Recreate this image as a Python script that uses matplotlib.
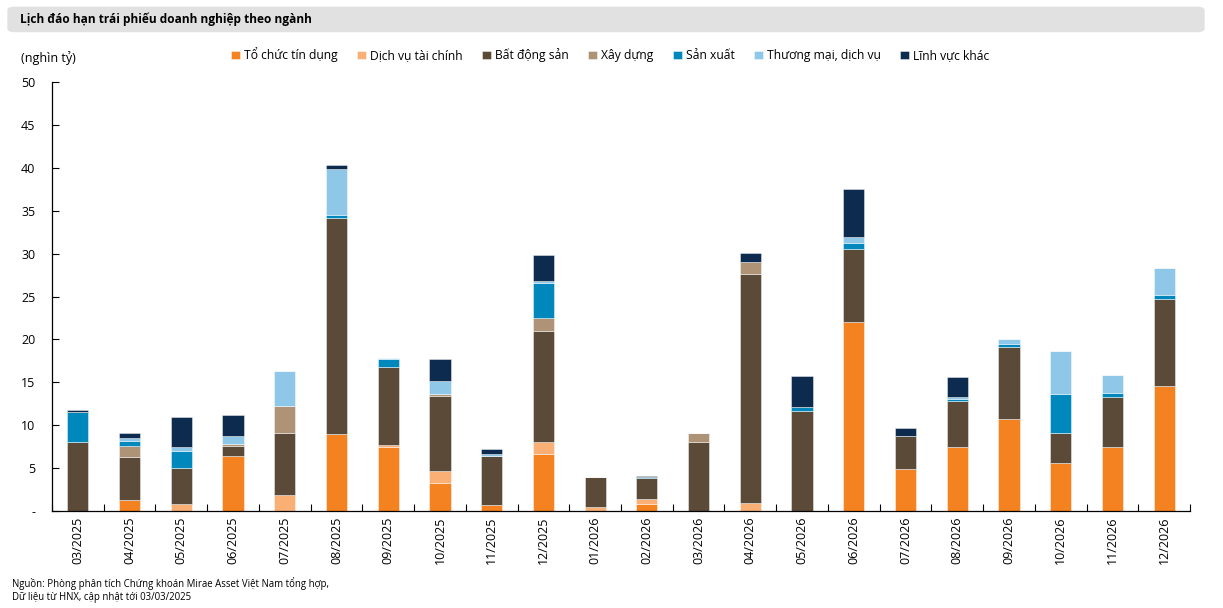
import matplotlib.pyplot as plt
import numpy as np
from matplotlib.patches import FancyBboxPatch

plt.rcParams['font.family'] = ['Open Sans', 'DejaVu Sans']

# Thang đáo hạn
thang = ['03/2025', '04/2025', '05/2025', '06/2025', '07/2025', '08/2025', '09/2025',
         '10/2025', '11/2025', '12/2025', '01/2026', '02/2026', '03/2026', '04/2026',
         '05/2026', '06/2026', '07/2026', '08/2026', '09/2026', '10/2026', '11/2026',
         '12/2026']

# Giá trị theo ngành (nghìn tỷ)
to_chuc_tin_dung = [0, 1.28, 0, 6.41, 0, 8.97, 7.5, 3.3, 0.7, 6.68, 0, 0.82, 0, 0,
                    0, 22.07, 4.94, 7.5, 10.76, 5.59, 7.5, 14.61]
dich_vu_tai_chinh = [0, 0, 0.78, 0, 1.82, 0, 0.15, 1.36, 0, 1.36, 0.47, 0.58, 0, 0.93,
                     0, 0, 0, 0, 0, 0, 0, 0]
bat_dong_san = [8.0, 5.05, 4.19, 1.2, 7.23, 25.22, 9.09, 8.78, 5.75, 12.96, 3.53, 2.49,
                8.04, 26.69, 11.62, 8.51, 3.77, 5.32, 8.39, 3.53, 5.83, 10.06]
xay_dung = [0, 1.24, 0, 0.19, 3.15, 0, 0, 0.23, 0, 1.49, 0, 0, 1.05, 1.4,
            0, 0, 0, 0, 0, 0, 0, 0]
san_xuat = [3.55, 0.62, 2.02, 0, 0, 0.31, 0.93, 0, 0, 4.11, 0, 0.05, 0, 0,
            0.5, 0.62, 0, 0.23, 0.31, 4.51, 0.43, 0.5]
thuong_mai = [0, 0.31, 0.43, 0.93, 4.08, 5.36, 0.16, 1.52, 0.15, 0.2, 0, 0, 0, 0,
              0, 0.78, 0, 0.24, 0.54, 4.98, 2.05, 3.11]
linh_vuc_khac = [0.2, 0.55, 3.5, 2.45, 0, 0.5, 0, 2.49, 0.66, 3.04, 0, 0.12, 0, 1.01,
                 3.58, 5.51, 0.96, 2.37, 0, 0, 0, 0]

nganh = ['Tổ chức tín dụng', 'Dịch vụ tài chính', 'Bất động sản', 'Xây dựng',
         'Sản xuất', 'Thương mại, dịch vụ', 'Lĩnh vực khác']
gia_tri = [to_chuc_tin_dung, dich_vu_tai_chinh, bat_dong_san, xay_dung,
           san_xuat, thuong_mai, linh_vuc_khac]
mau = ['#F58220', '#FAB074', '#5B4A37', '#AE9377', '#0088BC', '#8EC7E8', '#0C2B4E']

fig = plt.figure(figsize=(12.23, 6.08), dpi=100)

# Thanh tiêu đề màu xám
fig.patches.append(FancyBboxPatch((0.006, 0.947), 0.979, 0.042,
                                  boxstyle='round,pad=0,rounding_size=0.006',
                                  transform=fig.transFigure, facecolor='#E1E1E1',
                                  edgecolor='none', zorder=0))
fig.text(0.016, 0.968, 'Lịch đáo hạn trái phiếu doanh nghiệp theo ngành',
         fontsize=8.6, fontweight='bold', va='center', ha='left')

ax = fig.add_axes([0.0425, 0.1595, 0.9305, 0.7055])

x = np.arange(len(thang))
day = np.zeros(len(thang))
for ten, v, c in zip(nganh, gia_tri, mau):
    v = np.array(v)
    ax.bar(x, v, 0.41, bottom=day, color=c, label=ten,
           edgecolor=(1, 1, 1, 0.5), linewidth=0.6)
    day += v

ax.set_xlim(-0.5, len(thang) - 0.5)
ax.set_ylim(0, 50)
ax.set_yticks(np.arange(0, 51, 5))
ax.set_yticklabels(['-'] + [str(i) for i in range(5, 51, 5)])
ax.set_xticks(x)
ax.set_xticklabels(thang, rotation=90)
ax.set_xticks(np.arange(-0.5, len(thang), 1), minor=True)
ax.tick_params(axis='x', which='major', length=0, labelsize=9, pad=4)
ax.tick_params(axis='x', which='minor', direction='in', length=5, width=0.8)
ax.tick_params(axis='y', direction='in', length=5, width=0.8, labelsize=9, pad=12)
for s in ['top', 'right']:
    ax.spines[s].set_visible(False)
ax.spines['left'].set_linewidth(0.9)
ax.spines['bottom'].set_linewidth(0.9)

fig.text(0.017, 0.905, '(nghìn tỷ)', fontsize=9, va='center', ha='left')

ax.legend(loc='center', bbox_to_anchor=(0.499, 0.91), bbox_transform=fig.transFigure,
          ncol=7, frameon=False, fontsize=8.7, handlelength=0.75, handleheight=0.75,
          handletextpad=0.3, columnspacing=1.62)

fig.text(0.01, 0.041, 'Nguồn: Phòng phân tích Chứng khoán Mirae Asset Việt Nam tổng hợp,',
         fontsize=6.9, va='center', ha='left')
fig.text(0.01, 0.018, 'Dữ liệu từ HNX, cập nhật tới 03/03/2025',
         fontsize=6.9, va='center', ha='left')

fig.savefig('out.png', dpi=100)
